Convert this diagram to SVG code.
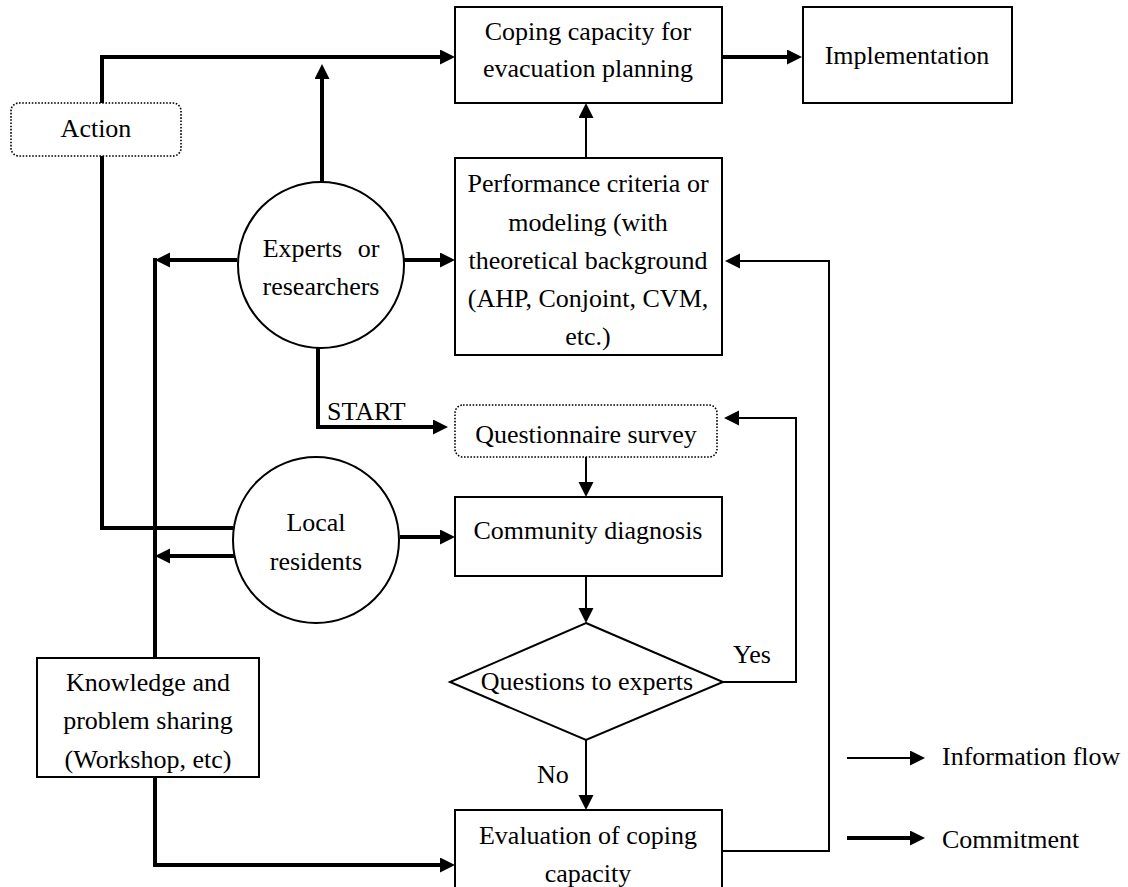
<svg xmlns="http://www.w3.org/2000/svg" width="1128" height="887" viewBox="0 0 1128 887">
<style>
text{font-family:"Liberation Serif","Times New Roman",serif;font-size:26px;fill:#000}
.c{text-anchor:middle}
.box{fill:#fff;stroke:#000;stroke-width:2}
.dot{fill:#fff;stroke:#000;stroke-width:1.6;stroke-dasharray:1.6 1.6}
.thick{fill:none;stroke:#000;stroke-width:4}
.thin{fill:none;stroke:#000;stroke-width:2}
.ah{marker-end:url(#arr)}
</style>
<defs>
<marker id="arr" markerUnits="userSpaceOnUse" markerWidth="16" markerHeight="16" refX="10" refY="7.5" orient="auto">
<path d="M0,0 L15,7.5 L0,15 z" fill="#000"/>
</marker>
</defs>
<g id="connectors">
<path class="thick ah" d="M233,528 H102 V57 H450"/>
<path class="thick ah" d="M322,183 V69"/>
<path class="thick ah" d="M722,57 H797"/>
<path class="thick ah" d="M237,260 H160"/>
<path class="thick" d="M155,258 V658"/>
<path class="thick ah" d="M404,260 H450"/>
<path class="thick ah" d="M318,347 V427 H443"/>
<path class="thick ah" d="M234,556 H160"/>
<path class="thick ah" d="M400,537 H450"/>
<path class="thick ah" d="M155,777 V865 H450"/>
<path class="thin ah" d="M586,158 V108"/>
<path class="thin ah" d="M586,457 V492"/>
<path class="thin ah" d="M586,576 V618"/>
<path class="thin ah" d="M586,740 V805"/>
<path class="thin ah" d="M723,682 H796 V418 H729"/>
<path class="thin ah" d="M723,851 H829 V261 H730"/>
<text x="327" y="420">START</text>
<text x="733" y="663">Yes</text>
<text x="537" y="783">No</text>
</g>
<g id="action">
<rect class="dot" x="11" y="103" width="170" height="53" rx="8"/>
<text class="c" x="96" y="137">Action</text>
</g>
<g id="coping">
<rect class="box" x="455" y="7" width="267" height="96"/>
<text class="c" x="588" y="40">Coping capacity for</text>
<text class="c" x="588" y="77">evacuation planning</text>
</g>
<g id="implementation">
<rect class="box" x="803" y="7" width="209" height="96"/>
<text class="c" x="907" y="64">Implementation</text>
</g>
<g id="performance">
<rect class="box" x="455" y="158" width="267" height="197"/>
<text class="c" x="588" y="192">Performance criteria or</text>
<text class="c" x="588" y="231">modeling (with</text>
<text class="c" x="588" y="269">theoretical background</text>
<text class="c" x="588" y="307">(AHP, Conjoint, CVM,</text>
<text class="c" x="588" y="345">etc.)</text>
</g>
<g id="experts">
<circle class="box" cx="321" cy="265" r="83"/>
<text class="c" x="321" y="257" word-spacing="9">Experts or</text>
<text class="c" x="321" y="295">researchers</text>
</g>
<g id="questionnaire">
<rect class="dot" x="455" y="405" width="262" height="52" rx="8"/>
<text class="c" x="586" y="443">Questionnaire survey</text>
</g>
<g id="local">
<circle class="box" cx="316" cy="540" r="83"/>
<text class="c" x="316" y="531">Local</text>
<text class="c" x="316" y="570">residents</text>
</g>
<g id="community">
<rect class="box" x="455" y="497" width="267" height="79"/>
<text class="c" x="588" y="539">Community diagnosis</text>
</g>
<g id="decision">
<polygon class="box" points="586,623 723,682 586,740 450,682"/>
<text class="c" x="587" y="690">Questions to experts</text>
</g>
<g id="knowledge">
<rect class="box" x="37" y="658" width="222" height="119"/>
<text class="c" x="148" y="691">Knowledge and</text>
<text class="c" x="148" y="729">problem sharing</text>
<text class="c" x="148" y="768">(Workshop, etc)</text>
</g>
<g id="evaluation">
<rect class="box" x="455" y="810" width="267" height="100"/>
<text class="c" x="588" y="844">Evaluation of coping</text>
<text class="c" x="588" y="882">capacity</text>
</g>
<g id="legend">
<path class="thin ah" d="M847,758 H920"/>
<text x="942" y="765">Information flow</text>
<path class="thick ah" d="M847,838 H920"/>
<text x="942" y="848">Commitment</text>
</g>
</svg>
